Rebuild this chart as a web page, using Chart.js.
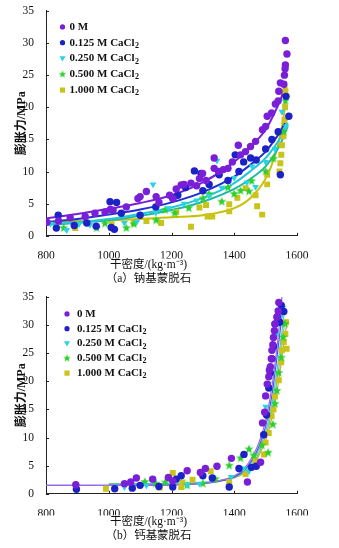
<!DOCTYPE html>
<html>
<head>
<meta charset="utf-8">
<script src="https://cdn.jsdelivr.net/npm/chart.js@4.4.0/dist/chart.umd.min.js"></script>
<style>
  html, body { margin: 0; padding: 0; background: #fff; }
  canvas { display: block; }
</style>
</head>
<body>
<canvas id="chartNa" width="339" height="286"></canvas>
<canvas id="chartCa" width="339" height="262"></canvas>
<script>
// 膨胀力 vs 干密度, 5 solutions, two clays

const seriesBase = ['0 M', '0.125 M CaCl', '0.250 M CaCl', '0.500 M CaCl', '1.000 M CaCl'];
const seriesSub = ['', '2', '2', '2', '2'];
const densityTicks = [800, 1000, 1200, 1400, 1600];
const pressureTicks = [0, 5, 10, 15, 20, 25, 30, 35];

// (a) 钠基蒙脱石 — measured points [干密度, 膨胀力]
const na0M = [[803,2.1],[840,2.3],[877,2.8],[925,3.0],[956,3.5],[988,3.7],[1005,4.1],[1014,4.0],[1056,4.5],
  [1093,5.8],[1100,6.1],[1120,6.9],[1151,6.1],[1160,5.2],[1194,6.3],[1205,5.8],[1215,7.3],[1231,7.9],[1240,8.0],
  [1262,8.2],[1280,7.8],[1289,8.9],[1299,9.7],[1310,8.6],[1336,12.1],[1336,10.5],[1350,10.0],[1365,10.3],
  [1380,10.5],[1394,11.5],[1413,14.1],[1420,12.6],[1436,13.1],[1452,13.9],[1468,14.7],[1490,16.5],[1500,17.0],
  [1505,18.6],[1519,19.1],[1531,20.5],[1540,21.0],[1542,22.5],[1547,23.8],[1558,23.6],[1560,25.0],[1562,26.0],
  [1563,26.6],[1568,28.3],[1563,30.4]];
const na0125 = [[833,1.2],[839,3.2],[890,1.6],[930,2.0],[960,1.5],[1004,5.3],[1018,1.0],[1008,1.3],[1025,5.2],
  [1040,3.5],[1100,3.2],[1150,4.5],[1204,5.8],[1220,6.3],[1245,7.5],[1273,10.1],[1294,9.7],[1300,7.0],[1320,8.0],
  [1352,9.5],[1380,8.6],[1403,12.6],[1415,10.0],[1430,11.5],[1452,12.1],[1470,11.8],[1500,13.5],[1520,15.0],
  [1540,16.2],[1547,9.5],[1565,21.7],[1574,18.6]];
const na0250 = [[814,1.9],[866,0.9],[905,1.8],[940,1.7],[960,1.3],[1050,2.0],[1090,2.2],[1141,8.0],[1150,3.6],
  [1190,4.3],[1240,5.0],[1280,5.5],[1320,6.2],[1345,11.7],[1360,7.5],[1400,9.0],[1440,8.3],[1457,10.8],[1468,7.6],
  [1500,11.5],[1530,13.5],[1552,19.3],[1565,17.0]];
const na0500 = [[856,1.2],[961,1.2],[988,1.9],[1056,1.2],[1080,1.8],[1151,2.4],[1180,4.0],[1210,3.5],[1255,4.3],
  [1300,5.8],[1320,6.5],[1360,5.3],[1380,7.5],[1400,6.5],[1420,7.0],[1447,6.9],[1455,8.5],[1500,10.0],[1525,12.0],
  [1557,16.2],[1563,21.0]];
const na1000 = [[800,2.1],[893,1.2],[1009,1.8],[1080,2.0],[1120,2.3],[1167,2.0],[1215,3.7],[1262,1.4],[1289,4.4],
  [1310,4.8],[1315,3.0],[1330,3.0],[1384,3.8],[1384,4.9],[1410,5.9],[1436,7.4],[1468,6.3],[1473,4.6],[1489,3.3],
  [1505,9.5],[1505,8.0],[1544,10.0],[1547,11.3],[1550,12.6],[1552,14.1],[1557,15.5],[1560,18.0],[1562,20.0],[1563,22.5]];

// (a) fitted curves
const naFitX = [800, 900, 1000, 1100, 1200, 1300, 1400, 1450, 1500, 1530, 1550, 1565];
const naFit0M = [2.7, 3.4, 4.2, 5.1, 6.3, 8.3, 11.5, 13.8, 16.5, 19.3, 21.5, 24.0];
const naFit0125X = [800, 900, 1000, 1100, 1200, 1300, 1400, 1450, 1500, 1530, 1550, 1572];
const naFit0125 = [2.1, 2.6, 3.3, 4.1, 5.2, 6.8, 9.2, 11.0, 13.1, 15.0, 16.5, 18.6];
const naFit0250X = [800, 900, 1000, 1100, 1200, 1300, 1400, 1450, 1500, 1530, 1550, 1570];
const naFit0250 = [1.8, 2.1, 2.6, 3.4, 4.4, 5.9, 8.2, 10.0, 12.1, 14.0, 15.5, 17.6];
const naFit0500 = [1.7, 2.0, 2.4, 3.1, 4.0, 5.3, 7.3, 8.8, 10.8, 12.8, 14.6, 17.0];
const naFit1000X = [800, 900, 1000, 1100, 1200, 1300, 1400, 1450, 1500, 1530, 1550, 1560, 1567];
const naFit1000 = [2.2, 2.3, 2.4, 2.6, 2.9, 3.2, 4.3, 5.8, 8.9, 12.5, 16.5, 19.5, 23.4];

// (b) 钙基蒙脱石 — measured points
const ca0M = [[895,1.6],[1050,1.8],[1070,2.1],[1088,2.8],[1140,2.6],[1190,2.9],[1204,2.3],[1250,4.1],[1292,3.8],
  [1308,4.5],[1345,4.9],[1391,6.3],[1442,2.1],[1484,5.6],[1490,12.6],[1497,14.5],[1500,17.4],[1505,19.5],
  [1510,20.8],[1512,22.0],[1515,22.6],[1518,24.0],[1520,25.5],[1523,26.5],[1525,27.8],[1528,29.0],[1530,30.2],
  [1536,31.4],[1540,32.5],[1542,34.0]];
const ca0125 = [[897,0.8],[1019,0.9],[1075,1.0],[1100,1.5],[1160,1.3],[1204,1.2],[1215,2.6],[1231,3.2],[1300,3.2],
  [1330,2.8],[1384,1.2],[1415,4.5],[1431,7.0],[1455,4.7],[1470,4.9],[1494,10.5],[1503,14.0],[1510,18.8],
  [1515,21.5],[1520,24.0],[1525,26.2],[1530,30.2],[1537,31.5],[1545,30.5],[1550,33.5],[1558,32.4]];
const ca0250 = [[1050,1.2],[1120,1.5],[1200,2.0],[1250,1.6],[1289,1.8],[1345,4.9],[1390,3.0],[1430,4.5],[1447,4.0],
  [1500,15.5],[1510,19.6],[1516,22.0],[1525,25.5],[1536,28.5],[1545,31.2],[1555,33.1]];
const ca0500 = [[1115,2.1],[1150,1.8],[1180,2.0],[1250,1.5],[1300,1.8],[1340,2.6],[1384,5.0],[1420,6.3],[1447,7.9],
  [1462,6.8],[1488,8.6],[1508,7.3],[1523,12.3],[1530,16.0],[1536,18.3],[1542,21.5],[1550,24.2],[1556,27.8],[1562,30.2]];
const ca1000 = [[991,0.9],[1162,1.1],[1204,3.7],[1231,1.2],[1235,2.0],[1267,2.5],[1325,4.0],[1384,2.1],[1436,3.5],
  [1468,5.9],[1495,7.0],[1500,9.1],[1510,10.8],[1519,13.8],[1525,15.0],[1530,17.3],[1542,20.2],[1550,23.4],
  [1552,25.5],[1558,27.0],[1563,28.4],[1565,30.5],[1567,25.8]];

// (b) fitted curves
const caFit0MX = [800, 1000, 1200, 1300, 1350, 1400, 1430, 1460, 1480, 1500, 1520, 1540, 1552];
const caFit0M = [1.5, 1.5, 1.6, 1.9, 2.3, 3.2, 4.4, 6.8, 9.3, 13.0, 19.0, 28.0, 35.0];
const caFit0125X = [800, 1000, 1200, 1300, 1350, 1400, 1430, 1460, 1480, 1500, 1520, 1540, 1556];
const caFit0125 = [1.5, 1.5, 1.6, 1.8, 2.2, 3.0, 4.1, 6.3, 8.6, 12.0, 17.5, 26.0, 33.5];
const caFitX = [1000, 1200, 1300, 1350, 1400, 1430, 1460, 1480, 1500, 1520, 1540, 1560];
const caFit0250 = [1.7, 1.8, 2.0, 2.3, 3.0, 4.0, 6.0, 8.0, 11.0, 16.0, 23.5, 32.5];
const caFit0500 = [1.8, 1.8, 2.0, 2.3, 2.9, 3.8, 5.5, 7.4, 10.2, 14.8, 21.5, 30.0];
const caFit1000X = [1000, 1200, 1300, 1350, 1400, 1430, 1460, 1480, 1500, 1520, 1540, 1560, 1570];
const caFit1000 = [1.6, 1.7, 1.9, 2.2, 2.8, 3.6, 5.2, 7.0, 9.5, 13.5, 19.5, 27.5, 31.0];

const markerColors = ['#7a1fd8', '#1c22c6', '#2ad2e2', '#2ccf2c', '#c9c41a'];
const naLineColors = ['#7a1fd8', '#2030d0', '#22c6d8', '#1fb8a6', '#c8c000'];
const caLineColors = ['#a066f0', '#4a56e0', '#44c8e4', '#66d066', '#e0a040'];
const FONT = "'Liberation Serif', 'Noto Sans CJK SC', serif";

// filled five-point star, used as a point image
function starImage(color, r) {
  const c = document.createElement('canvas');
  const s = Math.ceil(r * 2) + 2;
  c.width = c.height = s;
  const g = c.getContext('2d');
  g.fillStyle = color;
  g.beginPath();
  for (let i = 0; i < 10; i++) {
    const a = -Math.PI / 2 + i * Math.PI / 5;
    const rr = i % 2 ? r * 0.42 : r;
    g.lineTo(s / 2 + rr * Math.cos(a), s / 2 + rr * Math.sin(a));
  }
  g.closePath();
  g.fill();
  return c;
}
const star = starImage(markerColors[3], 4.8);
const starSmall = starImage(markerColors[3], 4);

const pointStyles = ['circle', 'circle', 'triangle', star, 'rect'];
const pointRot = [0, 0, 180, 0, 0];
const pointRad = [3.7, 3.7, 3.9, 4, 4.2];

const pairs = (arr) => arr.map(p => ({ x: p[0], y: p[1] }));
const zip = (xs, ys) => xs.map((x, i) => ({ x, y: ys[i] }));

function scatterSets(groups) {
  return groups.map((g, i) => ({
    type: 'scatter',
    label: seriesBase[i] + seriesSub[i],
    data: pairs(g),
    pointStyle: pointStyles[i],
    rotation: pointRot[i],
    pointRadius: pointRad[i],
    backgroundColor: markerColors[i],
    borderColor: markerColors[i],
    borderWidth: 0,
    order: 1
  }));
}
function fitSets(curves, colors, width) {
  return curves.map((c, i) => ({
    type: 'line',
    label: 'fit ' + i,
    data: c,
    borderColor: colors[i],
    borderWidth: width,
    pointRadius: 0,
    fill: false,
    cubicInterpolationMode: 'monotone',
    order: 2
  }));
}

// short ticks pointing into the plot
const innerTicks = {
  id: 'innerTicks',
  afterDraw(chart) {
    const { ctx, chartArea: a, scales: { x, y } } = chart;
    ctx.save();
    ctx.strokeStyle = '#222';
    ctx.lineWidth = 1;
    ctx.beginPath();
    densityTicks.forEach(v => {
      const px = Math.round(x.getPixelForValue(v)) + 0.5;
      ctx.moveTo(px, a.bottom); ctx.lineTo(px, a.bottom - 3);
    });
    pressureTicks.forEach(v => {
      const py = Math.round(y.getPixelForValue(v)) + 0.5;
      ctx.moveTo(a.left, py); ctx.lineTo(a.left + 3, py);
    });
    ctx.stroke();
    ctx.restore();
  }
};

function drawMarker(ctx, i, x, y) {
  ctx.fillStyle = markerColors[i];
  ctx.beginPath();
  if (i === 0 || i === 1) {
    ctx.arc(x, y, 2.6, 0, Math.PI * 2);
    ctx.fill();
  } else if (i === 2) {
    ctx.moveTo(x - 3, y - 2.2); ctx.lineTo(x + 3, y - 2.2); ctx.lineTo(x, y + 3);
    ctx.closePath(); ctx.fill();
  } else if (i === 3) {
    ctx.drawImage(starSmall, x - starSmall.width / 2, y - starSmall.height / 2);
  } else {
    ctx.fillRect(x - 2.6, y - 2.6, 5.2, 5.2);
  }
}

// legend inside the plot, with subscripted CaCl2
const insideLegend = {
  id: 'insideLegend',
  afterDraw(chart, args, opts) {
    const { ctx, chartArea: a } = chart;
    ctx.save();
    ctx.textBaseline = 'middle';
    seriesBase.forEach((name, i) => {
      const y = a.top + opts.top + i * opts.gap;
      drawMarker(ctx, i, a.left + opts.markerX, y);
      ctx.fillStyle = '#111';
      ctx.font = 'bold 11px ' + FONT;
      const tx = a.left + opts.textX;
      ctx.fillText(name, tx, y);
      if (seriesSub[i]) {
        const w = ctx.measureText(name).width;
        ctx.font = 'bold 8px ' + FONT;
        ctx.fillText(seriesSub[i], tx + w + 0.5, y + 3);
      }
    });
    ctx.restore();
  }
};

function makeChart(id, datasets, opt) {
  return new Chart(document.getElementById(id), {
    type: 'scatter',
    data: { datasets },
    plugins: [innerTicks, insideLegend],
    options: {
      responsive: false,
      animation: false,
      devicePixelRatio: 1,
      layout: { padding: { top: opt.padTop, right: 42, bottom: opt.padBottom, left: 0 } },
      plugins: {
        legend: { display: false },
        tooltip: { enabled: false },
        insideLegend: opt.legend,
        subtitle: {
          display: true, position: 'bottom', text: '干密度/(kg·m⁻³)',
          color: '#111', font: { family: FONT, size: 11.5 }, padding: 0
        },
        title: {
          display: true, position: 'bottom', text: opt.caption,
          color: '#111', font: { family: FONT, size: 11.5, weight: 'normal' }, padding: 0
        }
      },
      scales: {
        x: {
          type: 'linear', min: 800, max: 1600,
          afterBuildTicks: s => { s.ticks = densityTicks.map(v => ({ value: v })); },
          afterFit: s => { s.height = opt.xHeight; },
          grid: { display: false },
          border: { display: true, color: '#222', width: 1 },
          ticks: { color: '#111', font: { family: FONT, size: 11.5 }, padding: 5, maxRotation: 0,
                   callback: v => String(v) }
        },
        y: {
          type: 'linear', min: 0, max: 35,
          afterBuildTicks: s => { s.ticks = pressureTicks.map(v => ({ value: v })); },
          afterFit: s => { s.width = 46; },
          grid: { display: false },
          border: { display: true, color: '#222', width: 1 },
          ticks: { color: '#111', font: { family: FONT, size: 11.5 }, padding: 4, callback: v => String(v) },
          title: { display: true, text: '膨胀力/MPa', color: '#111',
                   font: { family: FONT, size: 12, weight: 'bold' }, padding: { top: 15, bottom: 0 } }
        }
      }
    }
  });
}

const naCurves = [zip(naFitX, naFit0M), zip(naFit0125X, naFit0125), zip(naFit0250X, naFit0250),
                  zip(naFit0250X, naFit0500), zip(naFit1000X, naFit1000)];
const caCurves = [zip(caFit0MX, caFit0M), zip(caFit0125X, caFit0125), zip(caFitX, caFit0250),
                  zip(caFitX, caFit0500), zip(caFit1000X, caFit1000)];

makeChart('chartNa',
  scatterSets([na0M, na0125, na0250, na0500, na1000]).concat(fitSets(naCurves, naLineColors, 2)),
  { padTop: 7, padBottom: 0, xHeight: 22.6, caption: '（a）钠基蒙脱石',
    legend: { markerX: 16.5, textX: 23.5, top: 16, gap: 15.8 } });

makeChart('chartCa',
  scatterSets([ca0M, ca0125, ca0250, ca0500, ca1000]).concat(fitSets(caCurves, caLineColors, 1.2)),
  { padTop: 4, padBottom: 5, xHeight: 21.6, caption: '（b）钙基蒙脱石',
    legend: { markerX: 21, textX: 31, top: 17, gap: 14.8 } });
</script>
</body>
</html>
